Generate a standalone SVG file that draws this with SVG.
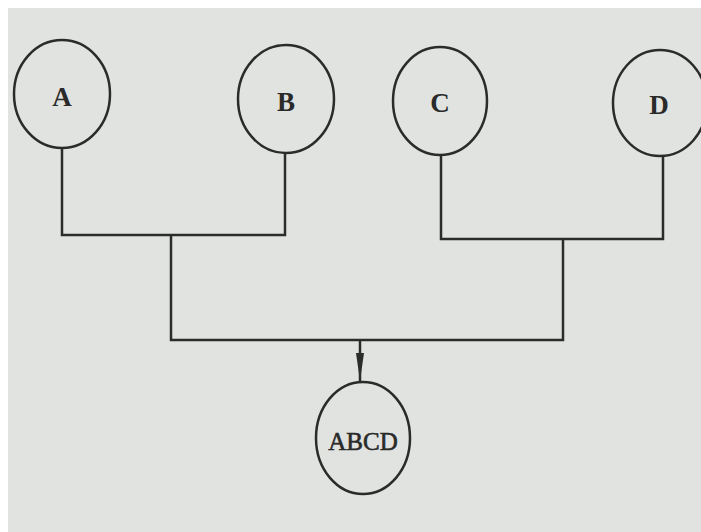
<svg xmlns="http://www.w3.org/2000/svg" width="701" height="532" viewBox="0 0 701 532">
<style>
.node ellipse{fill:none;stroke:#2a2c2a;stroke-width:2.5}
.node text{font-family:"Liberation Serif","DejaVu Serif",serif;font-weight:bold;fill:#2a2a2a;text-anchor:middle;dominant-baseline:central}
.conn path{fill:none;stroke:#2a2c2a;stroke-width:2.5}
</style>
<defs>
<marker id="arr" markerWidth="30" markerHeight="10" refX="28" refY="5" orient="auto" markerUnits="userSpaceOnUse" viewBox="0 0 30 10">
<path d="M0,1 L28,5 L0,9 Z" fill="#2a2c2a"/>
</marker>
</defs>
<rect width="701" height="532" fill="#ffffff"/>
<rect x="8" y="8" width="693" height="524" fill="#e0e3e0"/>
<g class="conn">
<path d="M62,148 V235 H285 V153"/>
<path d="M441,155 V239 H663 V157"/>
<path d="M171,235 V340 H563 V239"/>
<path d="M360,340 V381" marker-end="url(#arr)"/>
</g>
<g id="A" class="node"><ellipse cx="62" cy="94" rx="48" ry="54"/><text x="62" y="97" font-size="27">A</text></g>
<g id="B" class="node"><ellipse cx="286" cy="99" rx="48" ry="54"/><text x="286" y="102" font-size="27">B</text></g>
<g id="C" class="node"><ellipse cx="440" cy="101" rx="47" ry="54"/><text x="440" y="103" font-size="27">C</text></g>
<g id="D" class="node"><ellipse cx="660" cy="103" rx="47" ry="53"/><text x="659" y="105" font-size="27">D</text></g>
<g id="ABCD" class="node"><ellipse cx="363" cy="438" rx="47" ry="56"/><text x="363" y="441" font-size="25" style="font-weight:normal" stroke="#2a2a2a" stroke-width="0.6">ABCD</text></g>
</svg>
